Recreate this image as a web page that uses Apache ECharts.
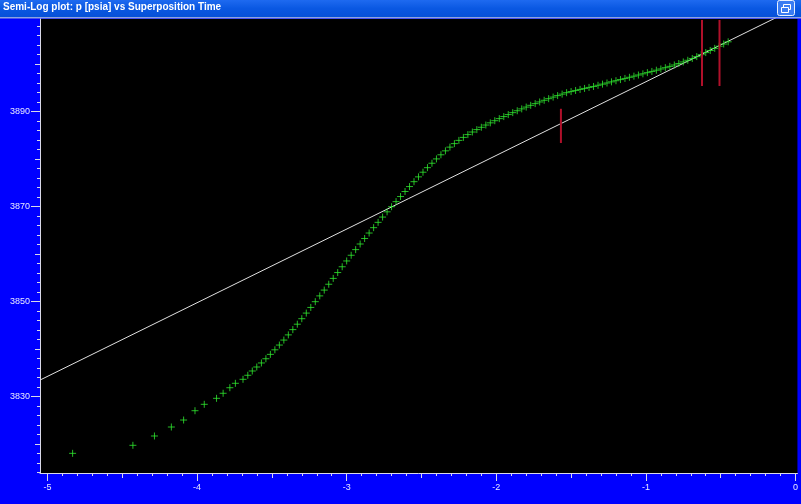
<!DOCTYPE html>
<html>
<head>
<meta charset="utf-8">
<script src="https://cdn.jsdelivr.net/npm/echarts@6/dist/echarts.min.js"></script>
<style>
html,body{margin:0;padding:0;background:#0000FF;}
#chart{width:801px;height:504px;}
</style>
</head>
<body>
<div id="chart"></div>
<script>
// ---- data ----
const titleText = 'Semi-Log plot: p [psia] vs Superposition Time';
const xTickLabels = [-5, -4, -3, -2, -1, 0];
const yTickLabels = [3830, 3850, 3870, 3890];

const ptX = [-4.832, -4.429, -4.285, -4.172, -4.090, -4.014, -3.952, -3.870, -3.826, -3.781, -3.744, -3.693, -3.661, -3.631, -3.601,
  -3.57, -3.54, -3.51, -3.48, -3.45, -3.42, -3.39, -3.36, -3.33, -3.30, -3.27, -3.24, -3.21, -3.18, -3.15, -3.12, -3.09, -3.06, -3.03, -3.00,
  -2.97, -2.94, -2.91, -2.88, -2.85, -2.82, -2.79, -2.76, -2.73, -2.70, -2.67, -2.64, -2.61, -2.58, -2.55, -2.52, -2.49, -2.46, -2.43, -2.40,
  -2.37, -2.34, -2.31, -2.28, -2.25, -2.22, -2.19, -2.16, -2.13, -2.10, -2.07, -2.04, -2.01, -1.98, -1.95, -1.92, -1.89, -1.86, -1.83, -1.80,
  -1.77, -1.74, -1.71, -1.68, -1.65, -1.62, -1.59, -1.56, -1.53, -1.50, -1.47, -1.44, -1.41, -1.38, -1.35, -1.32, -1.29, -1.26, -1.23, -1.20,
  -1.17, -1.14, -1.11, -1.08, -1.05, -1.02, -0.99, -0.96, -0.93, -0.90, -0.87, -0.84, -0.81, -0.78, -0.75, -0.72, -0.69, -0.66, -0.63, -0.60,
  -0.57, -0.54, -0.51, -0.48, -0.45];
const ptY = [3818.08, 3819.77, 3821.73, 3823.62, 3825.09, 3827.05, 3828.40, 3829.66, 3830.72, 3831.89, 3832.82, 3833.66, 3834.51, 3835.41, 3836.25,
  3837.10, 3837.99, 3838.91, 3839.87, 3840.87, 3841.92, 3843.01, 3844.12, 3845.26, 3846.42, 3847.60, 3848.79, 3850.00, 3851.22, 3852.44, 3853.67, 3854.90, 3856.13, 3857.35, 3858.57,
  3859.77, 3860.96, 3862.14, 3863.30, 3864.45, 3865.58, 3866.70, 3867.81, 3868.91, 3869.99, 3871.06, 3872.13, 3873.19, 3874.23, 3875.26, 3876.27, 3877.25, 3878.21, 3879.14, 3880.05,
  3880.92, 3881.75, 3882.53, 3883.27, 3883.95, 3884.58, 3885.17, 3885.71, 3886.22, 3886.71, 3887.18, 3887.64, 3888.09, 3888.53, 3888.96, 3889.38, 3889.79, 3890.19, 3890.58, 3890.96,
  3891.33, 3891.69, 3892.04, 3892.39, 3892.73, 3893.06, 3893.38, 3893.69, 3893.99, 3894.23, 3894.46, 3894.68, 3894.89, 3895.10, 3895.30, 3895.55, 3895.79, 3896.03, 3896.27, 3896.51,
  3896.75, 3896.99, 3897.23, 3897.47, 3897.71, 3897.96, 3898.21, 3898.46, 3898.72, 3898.98, 3899.25, 3899.53, 3899.82, 3900.13, 3900.46, 3900.81, 3901.19, 3901.59, 3902.00, 3902.43,
  3902.87, 3903.32, 3903.77, 3904.23, 3904.70];

// straight semi-log line end points
const fitX = [-5.05, 0.013];
const fitY = [3833.5, 3912.0];

// red vertical markers: x, y bottom, y top
const markX = [-1.568, -0.625, -0.508];
const markYlo = [3883.4, 3895.4, 3895.4];
const markYhi = [3890.6, 3909.3, 3909.3];

// axis extents
const xMin = -5.05, xMax = 0.013;
const yMin = 3813.94, yMax = 3909.5;

// ---- build ----
function range(a, b, step, dec) {
  const out = [];
  const n = Math.round((b - a) / step);
  for (let i = 0; i <= n; i++) out.push(+(a + i * step).toFixed(dec));
  return out;
}
const xMajor = xTickLabels;
const xMedium = range(-4.5, -0.5, 1, 1);
const xMinor = range(-5.0, 0.0, 0.1, 1);
const yMajor = yTickLabels.concat([]);
const yMedium = range(3820, 3900, 20, 0);
const yMinor = range(3814, 3908, 2, 0);

const axisCol = '#D8D8E8';
const labelCol = '#E8E8FF';
const font = 'Liberation Sans, Arial, sans-serif';

function xAx(ticks, len, labels, showLine) {
  return {
    type: 'value', min: xMin, max: xMax, position: 'bottom',
    axisLine: { show: showLine, onZero: false, lineStyle: { color: axisCol, width: 1 } },
    axisTick: { show: true, length: len, customValues: ticks, lineStyle: { color: axisCol, width: 1 } },
    axisLabel: labels ? { show: true, customValues: labels, color: labelCol, fontSize: 9, fontFamily: font, margin: 10,
      formatter: v => String(v) } : { show: false },
    splitLine: { show: false }
  };
}
function yAx(ticks, len, labels, showLine) {
  return {
    type: 'value', min: yMin, max: yMax, position: 'left',
    axisLine: { show: showLine, onZero: false, lineStyle: { color: axisCol, width: 1 } },
    axisTick: { show: true, length: len, customValues: ticks, lineStyle: { color: axisCol, width: 1 } },
    axisLabel: labels ? { show: true, customValues: labels, color: labelCol, fontSize: 9, fontFamily: font, margin: 10,
      formatter: v => String(v) } : { show: false },
    splitLine: { show: false }
  };
}

const scatterData = ptX.map((x, i) => [x, ptY[i]]);
const fitData = fitX.map((x, i) => [x, fitY[i]]);

const series = [
  {
    type: 'line', data: fitData, symbol: 'none', clip: true,
    lineStyle: { color: '#E0E0E0', width: 1 }, silent: true, z: 2
  },
  {
    type: 'scatter', data: scatterData,
    symbol: 'path://M0,5L10,5M5,0L5,10', symbolSize: 7,
    itemStyle: { color: 'rgba(0,0,0,0)', borderColor: '#30E830', borderWidth: 1 },
    z: 3
  }
];
markX.forEach((x, i) => {
  series.push({
    type: 'line', data: [[x, markYlo[i]], [x, markYhi[i]]], symbol: 'none',
    lineStyle: { color: '#B0102A', width: 2 }, silent: true, z: 4
  });
});

const chart = echarts.init(document.getElementById('chart'), null, { renderer: 'canvas' });
chart.setOption({
  animation: false,
  backgroundColor: '#0000FF',
  title: {
    text: titleText, left: 3, top: 2, padding: 0,
    textStyle: { color: '#FFFFFF', fontWeight: 'bold', fontSize: 10, fontFamily: font }
  },
  grid: { left: 40, right: 0, top: 19, bottom: 31, show: true, backgroundColor: '#000000', borderWidth: 0 },
  xAxis: [xAx(xMajor, 8, xTickLabels, true), xAx(xMedium, 5, null, false), xAx(xMinor, 3, null, false)],
  yAxis: [yAx(yMajor, 9, yTickLabels, true), yAx(yMedium, 5, null, false), yAx(yMinor, 3, null, false)],
  graphic: [
    { type: 'rect', z: -1, shape: { x: 0, y: 0, width: 801, height: 17 },
      style: { fill: new echarts.graphic.LinearGradient(0, 0, 0, 1, [
        { offset: 0, color: '#1E6AF0' }, { offset: 0.5, color: '#0A58E2' }, { offset: 1, color: '#0650D8' }]) } },
    { type: 'rect', z: -1, shape: { x: 0, y: 17, width: 801, height: 1.5 }, style: { fill: '#8CA4E0' } },
    { type: 'rect', z: 10, shape: { x: 777.5, y: 0.5, width: 17, height: 15, r: 2 },
      style: { fill: '#3A7CF2', stroke: '#E8F0FF', lineWidth: 1 } },
    { type: 'rect', z: 11, shape: { x: 783.5, y: 4.5, width: 7, height: 5 },
      style: { fill: 'none', stroke: '#FFFFFF', lineWidth: 1 } },
    { type: 'rect', z: 12, shape: { x: 781.5, y: 7.5, width: 7, height: 5 },
      style: { fill: '#3A7CF2', stroke: '#FFFFFF', lineWidth: 1 } }
  ],
  series: series
});
</script>
</body>
</html>
